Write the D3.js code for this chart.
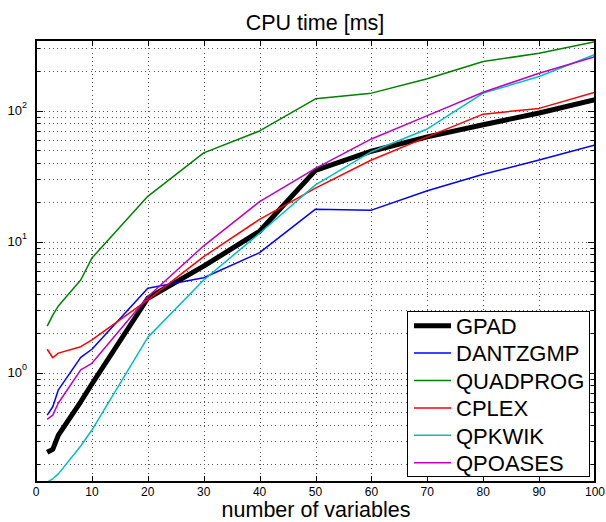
<!DOCTYPE html>
<html><head><meta charset="utf-8">
<script src="https://cdn.jsdelivr.net/npm/d3@7"></script>
<style>
html,body{margin:0;padding:0;background:#fff;}
text{font-family:"Liberation Sans",Arial,Helvetica,sans-serif;fill:#000;}
</style></head>
<body><svg id="c" width="606" height="522"></svg>
<script>
const xValues = [2,3,4,8,10,20,30,40,50,60,70,80,90,100];
const seriesNames = ["GPAD","DANTZGMP","QUADPROG","CPLEX","QPKWIK","QPOASES"];
const gpad     = [0.247,0.26,0.334,0.6,0.82,3.7,6.5,12.0,35,49,63,78,96,121];
const dantzgmp = [0.475,0.55,0.74,1.31,1.51,4.41,5.3,8.24,17.7,17.4,24.5,32.7,42,54.7];
const quadprog = [2.27,2.75,3.23,5.1,7.5,22.2,47.6,70,123,136,175,237,274,336];
const cplex    = [1.51,1.30,1.41,1.58,1.78,3.59,7.7,14.8,25.6,42,63,94,104,138];
const qpkwik   = [0.146,0.155,0.169,0.276,0.365,1.86,5.1,11.6,27.1,48.6,72.5,136,182,269];
const qpoases  = [0.44,0.475,0.587,1.05,1.18,3.8,9.3,20.2,36.3,60.8,91.6,138,193,258];
const xTicks = [0,10,20,30,40,50,60,70,80,90,100];
const yMajor = [1,10,100];
const yMajorLabels = ["0","1","2"];
const title = "CPU time [ms]";
const xLabel = "number of variables";

const series = [gpad,dantzgmp,quadprog,cplex,qpkwik,qpoases];
const colors = ["#000000","#0000ff","#008000","#ff0000","#00bfbf","#bf00bf"];
const widths = [5,1.5,1.5,1.5,1.5,1.5];

const svg = d3.select("#c");
const L=36,R=595,T=40,B=482;
const x = d3.scaleLinear().domain([0,100]).range([L,R]);
const y = d3.scaleLog().domain([0.1465,346]).range([B,T]);

const yAll=[];
for (let e=-1;e<=2;e++) for (let m=1;m<=9;m++){const v=m*Math.pow(10,e); if(v>=y.domain()[0]&&v<=y.domain()[1]) yAll.push(v);}

const grid = svg.append("g").attr("stroke","#555").attr("stroke-width",1).attr("stroke-dasharray","1,3.2").attr("shape-rendering","crispEdges");
xTicks.filter(t=>t>0&&t<100).forEach(t=>{
  grid.append("line").attr("x1",Math.round(x(t))+0.5).attr("x2",Math.round(x(t))+0.5).attr("y1",T).attr("y2",B);
});
yAll.forEach(v=>{
  grid.append("line").attr("x1",L).attr("x2",R).attr("y1",Math.round(y(v))+0.5).attr("y2",Math.round(y(v))+0.5);
});

svg.append("defs").append("clipPath").attr("id","clip").append("rect").attr("x",L).attr("y",T).attr("width",R-L).attr("height",B-T);
const line = d3.line().x((d,i)=>x(xValues[i])).y(d=>y(d));
const lg = svg.append("g").attr("clip-path","url(#clip)");
series.forEach((s,i)=>{
  lg.append("path").datum(s).attr("d",line).attr("fill","none")
    .attr("stroke",colors[i]).attr("stroke-width",widths[i]).attr("stroke-linejoin","round");
});

const ax = svg.append("g").attr("stroke","#000").attr("shape-rendering","crispEdges");
ax.append("rect").attr("x",L).attr("y",T).attr("width",R-L).attr("height",B-T).attr("fill","none").attr("stroke-width",2);
xTicks.forEach(t=>{
  const px=Math.round(x(t))+0.5;
  ax.append("line").attr("x1",px).attr("x2",px).attr("y1",B).attr("y2",B-6).attr("stroke-width",1);
  ax.append("line").attr("x1",px).attr("x2",px).attr("y1",T).attr("y2",T+6).attr("stroke-width",1);
});
yAll.forEach(v=>{
  const py=Math.round(y(v))+0.5;
  const len = yMajor.includes(v)?7:4;
  ax.append("line").attr("x1",L).attr("x2",L+len).attr("y1",py).attr("y2",py).attr("stroke-width",1);
  ax.append("line").attr("x1",R).attr("x2",R-len).attr("y1",py).attr("y2",py).attr("stroke-width",1);
});

const xt = svg.append("g");
xTicks.forEach(t=>{
  xt.append("text").attr("x",x(t)).attr("y",495.5).attr("text-anchor","middle").attr("font-size",12).text(t);
});
yMajor.forEach((v,i)=>{
  const t = svg.append("text").attr("x",27).attr("y",y(v)+4.5).attr("text-anchor","end").attr("font-size",13);
  t.append("tspan").text("10");
  t.append("tspan").attr("font-size",9).attr("dy",-7).text(yMajorLabels[i]);
});

svg.append("text").attr("x",315).attr("y",29.5).attr("text-anchor","middle").attr("font-size",21.5).text(title);
svg.append("text").attr("x",316).attr("y",517).attr("text-anchor","middle").attr("font-size",21.5).text(xLabel);

const lgX=407,lgY=311,lgW=182,lgH=165;
const leg = svg.append("g");
leg.append("rect").attr("x",lgX+0.5).attr("y",lgY+0.5).attr("width",lgW).attr("height",lgH).attr("fill","#fff").attr("stroke","#000").attr("stroke-width",1);
seriesNames.forEach((n,i)=>{
  const cy = 325.7 + i*27.4;
  leg.append("line").attr("x1",414).attr("x2",451).attr("y1",cy).attr("y2",cy).attr("stroke",colors[i]).attr("stroke-width",widths[i]);
  leg.append("text").attr("x",456).attr("y",cy+8.3).attr("font-size",22).text(n);
});
</script></body></html>
